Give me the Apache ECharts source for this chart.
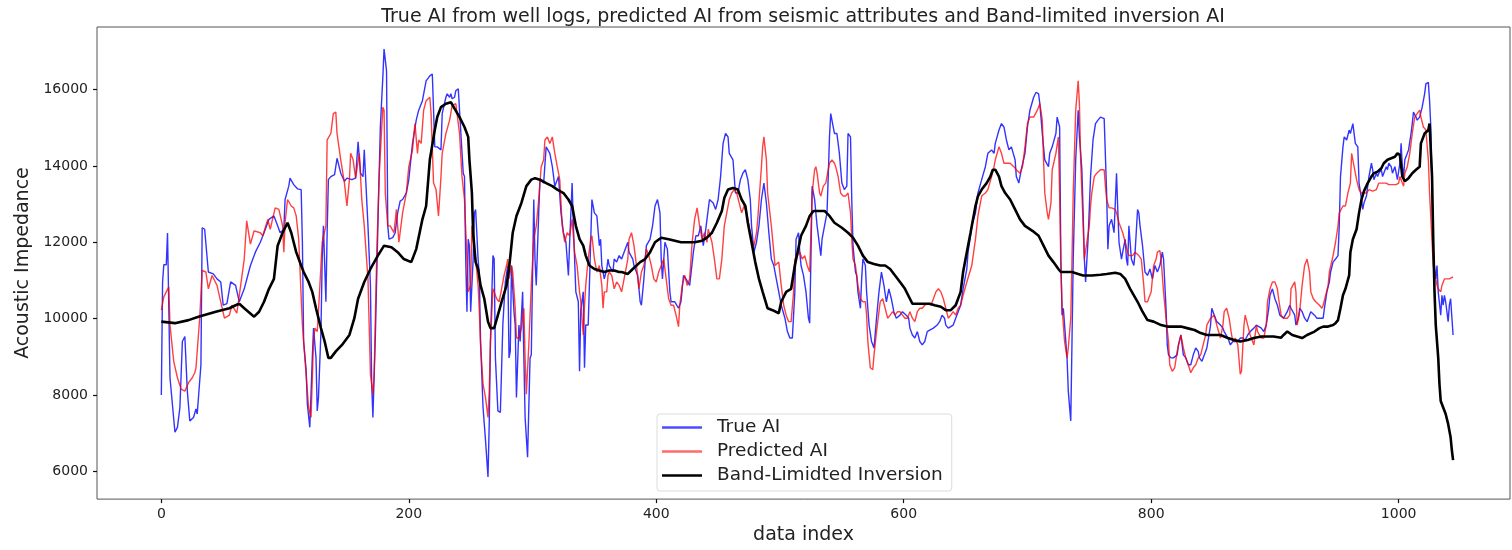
<!DOCTYPE html>
<html>
<head>
<meta charset="utf-8">
<title>Acoustic impedance comparison</title>
<script src="https://cdn.jsdelivr.net/npm/echarts@6/dist/echarts.min.js"></script>
<style>
  html, body { margin: 0; padding: 0; background: #fff; }
  #chart { width: 1512px; height: 550px; }
</style>
</head>
<body>
<div id="chart"></div>
<script>
// Tick positions for both axes
const xTicks = [0, 200, 400, 600, 800, 1000];
const yTicks = [6000, 8000, 10000, 12000, 14000, 16000];

// [data index, acoustic impedance] — impedance measured from well logs
const trueAI = [[0,8000],[1,10960],[2,11410],[4,11410],[5,12240],[7,8450],[11,7020],[13,7150],[15,7670],[17,9400],[19,9530],[21,8100],[23,7320],[26,7410],[28,7630],[29,7500],[32,8790],[33,12380],[35,12340],[38,11220],[42,11170],[45,11040],[48,10960],[50,10350],[53,10390],[56,10960],[60,10870],[63,10440],[67,10780],[72,11390],[76,11740],[80,12000],[83,12250],[87,12600],
[88,12640],[91,12690],[94,12430],[96,12250],[99,12340],[100,13120],[103,13470],[104,13680],[107,13510],[110,13400],[113,13380],[114,12000],[115,9400],[117,8660],[118,7760],[120,7150],[122,8970],[123,9750],[125,8970],[126,7580],[127,7930],[129,9660],[130,11560],[131,12430],[133,10440],[134,12250],[135,13640],[137,13720],[140,13770],[142,14200],[145,13810],[148,13600],[150,13680],[154,13640],[157,13680],[159,14630],[161,13810],[163,13720],[164,14420],[167,12430],[169,10870],[170,8280],[171,7410],[173,9570],[175,12430],[177,15020],[179,16320],[180,17060],[182,16490],[183,12430],[184,12080],[187,12120],[189,12250],[191,12770],[193,13080],[195,13120],[198,13290],[200,13640],[203,14590],[206,15200],[208,15460],[211,15710],[214,16230],[217,16360],[219,16410],[220,15460],[221,14500],[223,14500],[226,14420],[227,15370],[230,15800],
[231,15890],[233,15800],[234,15890],[235,15760],[237,15800],[238,15970],[240,16020],[241,15460],[244,13810],[245,13720],[246,11560],[247,10180],[248,12080],[249,11910],[250,10180],[252,11560],[253,12770],[254,12860],[256,11560],[257,11130],[258,9400],[260,7670],[262,6810],[264,5850],[265,7240],[266,9400],[268,11650],[269,11560],[270,8970],[272,7580],[274,7540],[276,9830],[278,10960],[280,11390],[281,8970],[282,9140],[283,11390],[285,10180],[286,9830],[287,7930],[289,9830],[290,9400],[292,10700],[293,8970],[294,7410],[296,6370],[298,8970],[299,9050],[301,13120],[302,11560],[303,10870],[305,12770],[306,13640],[309,13550],[311,14500],[314,14330],[316,13980],[318,13470],[321,13720],[323,12770],[325,12250],[327,12000],[329,11130],[330,12000],[332,13550],[333,12430],[335,10700],[337,10440],[338,8620],[339,10220],[341,10700],[342,8710],[343,9830],[345,9830],[347,12000],[348,13120],[350,12770],[352,12690],[354,11910],[355,12080],[356,11390],[358,11040],[360,11300],[361,11560],[362,11390],[365,11220],[366,11560],[368,11480],[370,11650],
[372,11560],[374,11740],[377,12000],[378,11740],[381,11560],[382,11390],[385,11130],[387,10440],[388,10350],[390,11040],[392,11910],[395,12080],[397,12430],[399,12950],[401,13120],[403,12770],[404,11560],[405,11040],[407,12000],[409,11820],[411,10700],[412,10440],[415,10440],[418,10270],[420,10440],[422,11130],[424,11040],[427,10870],[430,11740],[432,12170],[434,12170],[436,12430],[438,11910],[440,12340],[441,12600],[443,13120],[446,13030],[448,12860],[450,13120],[452,13720],[454,14590],[456,14850],[458,14760],[459,14330],[462,14160],[464,13290],[466,13290],[468,13640],[470,13810],[472,13900],[474,13640],[476,13120],[477,12430],[479,11740],[481,12000],[483,12430],[485,13120],[487,13550],[489,13030],[491,12250],[493,11560],[495,11390],[497,11040],[499,10700],[501,10350],[504,10010],[506,9660],[508,9490],[510,9490],[512,10700],
[513,12080],[515,12250],[516,11740],[517,11390],[519,11130],[521,10700],[523,10010],[524,9880],[525,11560],[526,13470],[528,13120],[529,12770],[530,12430],[532,11910],[533,11650],[534,12080],[536,12430],[538,12770],[539,13720],[540,14760],[541,15370],[543,15020],[544,14850],[546,14850],[548,14330],[550,13550],[552,13380],[554,13470],[555,14850],[557,14760],[558,13120],[559,11910],[561,11220],[562,11130],[563,10700],[565,10270],[566,11040],[567,11560],[569,11390],[570,10700],[572,9830],[574,9400],[576,9230],[578,10010],[580,10700],[582,11220],[584,10870],[586,10440],[588,10780],[590,10520],[592,10180],[594,10010],[597,10090],[599,10180],[602,10090],[604,10010],[605,9750],[607,9570],[609,9490],[611,9660],[613,9400],[615,9310],[617,9400],[619,9660],[621,9700],[624,9750],[627,9830],[629,9920],[631,10090],[633,10010],[634,9830],[636,9750],[638,9790],[640,9830],[642,10010],[644,10180],[646,10350],[648,10780],[651,11300],[652,11740],[654,12170],
[655,12430],[658,12770],[660,13290],[663,13640],[666,13980],[668,14330],[671,14420],[673,14330],[674,14590],[677,14940],[679,15110],[681,15020],[682,15070],[683,14680],[685,14420],[687,14500],[690,14160],[691,13720],[693,13550],[695,13900],[698,14330],[700,15020],[702,15460],[705,15800],[707,15930],[709,15890],[710,15630],[712,14850],[714,14160],[717,13980],[718,14330],[720,14500],[723,14850],[724,15280],[726,15020],[727,11560],[728,10090],[729,10270],[730,10270],[732,8970],[733,8100],[735,7320],[736,9400],[737,11560],[739,14160],[741,15460],[742,14760],[744,13900],[745,12770],[746,11560],[747,10960],[749,12080],[751,13720],[753,14680],[755,15110],[757,15200],[759,15280],[762,15240],[764,13290],[765,11820],[766,12430],[768,12600],[770,12250],[772,13810],[773,12860],[774,12000],[776,11560],[777,11740],[779,12080],[780,11560],[781,11390],[782,12430],[784,11560],[786,11390],[787,11740],[789,12860],[790,12770],[791,12430],[793,11910],[794,11560],[795,11220],
[797,11130],[799,11300],[801,11040],[803,11390],[805,11220],[807,11390],[809,11740],[810,11560],[812,10270],[813,9310],[814,9050],[816,8970],[818,8970],[821,9050],[822,9310],[824,9570],[826,9050],[828,8970],[830,8790],[832,8790],[834,9050],[836,9230],[838,9140],[839,8970],[841,8880],[843,9050],[845,9230],[848,9830],[849,10270],[851,10090],[853,9920],[856,9830],[858,9750],[859,9660],[862,9490],[864,9310],[866,9400],[868,9400],[870,9400],[872,9490],[874,9490],[876,9440],[878,9570],[880,9660],[883,9750],[885,9830],[886,9830],[889,9750],[891,9660],[893,9830],[895,10270],[896,10610],[898,10780],[900,10520],[902,10350],[904,10090],[905,10090],[907,10010],[910,10180],[912,10350],[913,10270],[916,10090],[917,9830],[919,10010],[920,10270],[922,10180],[924,10010],[926,9920],[929,10180],[930,10180],[932,10090],[934,10010],[937,10010],
[939,10010],[940,10270],[942,10700],[944,10960],[945,11220],[947,11480],[949,11560],[951,11650],[952,12430],[953,13720],[955,14500],[956,14760],[958,14680],[960,14940],[961,14850],[963,15110],[964,15110],[965,14590],[967,14500],[968,13550],[970,13120],[971,12860],[972,13030],[974,13210],[975,13470],[976,13720],[978,14070],[979,13900],[980,13640],[982,13810],[983,13720],[984,13810],[986,13900],[987,13720],[988,13810],[990,13980],[991,13900],[992,14070],[994,13980],[995,13810],[997,13980],[998,13810],[999,13640],[1001,14070],[1002,14590],[1003,13980],[1004,13720],[1005,14160],[1007,14330],[1008,14420],[1010,14850],[1011,15110],[1012,15410],[1014,15280],[1015,15200],[1017,15280],[1019,15540],[1021,15890],[1022,16150],[1024,16190],[1025,15710],[1026,15020],[1027,13290],[1028,11650],[1030,11040],[1031,11390],[1032,10700],[1034,10090],[1035,10610],[1036,10350],[1037,10610],[1038,10440],[1040,9920],[1041,10350],[1042,10520],[1044,9570]];

// [data index, acoustic impedance] — predicted from seismic attributes
const predictedAI = [[0,10220],[2,10570],[6,10830],[7,9830],[10,8880],[13,8450],[16,8150],[19,8100],[22,8320],[25,8450],[27,8580],[28,8710],[31,10010],[33,11260],[36,11220],[38,10780],[41,11130],[45,10870],[51,10010],[55,10090],[57,10350],[61,10140],[63,10610],[67,11560],[69,12560],[72,11950],[75,12300],[80,12250],[82,12170],[86,12600],
[88,12340],[92,12900],[95,12860],[98,12430],[99,11740],[100,12510],[102,13120],[105,12950],[107,12900],[109,12690],[111,12080],[114,9830],[117,8540],[119,7670],[121,7410],[123,9400],[124,9750],[126,9660],[127,10180],[130,12000],[133,12430],[134,14680],[137,14850],[139,15370],[141,15410],[142,14850],[145,14160],[148,13550],[150,12950],[152,13640],[153,14330],[155,14160],[157,13680],[160,14330],[162,13120],[164,12430],[167,11040],[169,8540],[171,8020],[172,8540],[174,11560],[176,13720],[179,15540],[180,15460],[181,13290],[183,12430],[185,12430],[188,12250],[190,12860],[192,12000],[195,12770],[198,13290],[200,13980],[203,14420],[205,15110],[207,14330],[208,14680],[210,14590],[212,15460],[214,15710],[217,15800],[218,15370],[220,13550],[222,13380],[224,12690],[226,13720],[227,14330],
[230,14850],[233,15200],[235,15580],[238,15630],[239,15370],[241,14850],[243,13720],[245,13120],[247,11560],[248,10700],[250,10870],[251,12430],[252,12080],[254,11560],[256,10870],[257,10180],[258,9310],[260,8280],[262,7930],[264,7410],[265,8100],[266,9400],[268,10780],[269,10700],[271,10520],[273,10440],[275,10780],[277,11130],[279,11390],[280,11560],[281,11040],[283,11390],[284,11220],[286,10270],[287,9490],[289,9490],[291,9750],[293,10270],[294,8970],[295,8020],[297,9310],[299,10870],[301,12080],[303,12430],[305,13120],[307,13980],[309,14160],[310,14680],[312,14760],[314,14590],[316,14760],[318,14330],[320,13980],[322,13640],[324,12430],[326,12000],[328,12250],[330,12170],[332,12600],[334,11740],[336,11390],[338,10700],[339,10440],[341,9570],[342,10350],[343,10870],[345,11560],[347,12080],[348,12170],[350,11560],[352,11220],[354,11390],[356,10870],[357,10270],[358,10700],[360,10700],[361,11130],[362,11220],[364,11130],[365,10960],[366,10780],[368,10960],[370,10870],
[372,10700],[374,11040],[377,11560],[378,12080],[380,12250],[382,11910],[384,11390],[386,10780],[388,11220],[390,11390],[392,11820],[394,11650],[396,11390],[398,11040],[400,10960],[402,11220],[404,11390],[406,11560],[408,11040],[410,10520],[412,10350],[414,10350],[416,10090],[418,9790],[419,10350],[421,10870],[423,11130],[425,10870],[427,11040],[429,12000],[431,12600],[433,12900],[435,12430],[437,12080],[439,12250],[441,12000],[442,12340],[445,12000],[447,11560],[449,11040],[451,11040],[453,11560],[455,12430],[457,12770],[459,13120],[461,13290],[463,13380],[465,13290],[467,13030],[469,12770],[471,12950],[473,12770],[475,12430],[477,12080],[479,11910],[481,12250],[482,12600],[485,13980],[486,14500],[487,14760],[489,14160],[490,13290],[493,12430],[495,11740],[496,11390],[499,11480],[501,10870],[503,10350],[505,10090],[507,9920],[509,9920],[511,10700],[512,11560],
[516,11740],[518,11560],[520,11650],[522,11390],[524,11220],[525,12250],[526,13290],[528,13900],[529,13980],[530,13810],[532,13290],[533,13210],[535,13470],[537,13550],[539,13900],[540,14070],[542,14160],[544,14070],[545,13980],[547,13720],[549,13290],[551,13210],[553,13210],[555,13290],[557,12770],[558,12080],[559,11560],[561,11390],[563,10870],[565,10520],[567,10440],[569,10440],[570,10090],[571,9400],[573,8710],[575,8660],[576,9050],[578,9660],[580,10180],[581,10440],[583,10520],[585,10270],[587,10010],[589,10090],[591,10180],[593,10090],[595,10180],[597,10180],[599,10090],[601,10010],[603,10010],[605,10180],[607,10010],[609,9920],[611,10180],[613,10270],[615,10270],[617,10350],[620,10390],[622,10350],[624,10520],[626,10700],[628,10780],[630,10700],[632,10520],[634,10270],[636,10010],[638,10090],[640,10180],[642,10090],[644,10270],[646,10350],[648,10610],[651,10960],
[655,11390],[658,12080],[660,12690],[663,13210],[666,13290],[668,13380],[671,13720],[673,13980],[674,14160],[677,14500],[679,14330],[681,14070],[683,14070],[686,14070],[689,13980],[691,13900],[694,13810],[696,13980],[698,14500],[700,15110],[702,15280],[705,15280],[708,15460],[710,15630],[712,15200],[713,14160],[714,13290],[716,12770],[717,12600],[719,13030],[720,13900],[723,14330],[725,14760],[726,13290],[727,11390],[728,10270],[730,9400],[732,8970],[733,9230],[735,10010],[736,11560],[737,13290],[739,15460],[741,16230],[742,15630],[743,14160],[745,12430],[746,11560],[748,12000],[750,12430],[751,12950],[752,13290],[754,13720],[756,13810],[759,13900],[762,13900],[763,13470],[764,13120],[766,12900],[768,12900],[771,12860],[772,12770],[774,12510],[777,12250],[779,12000],[781,11740],[782,11650],[785,11650],[787,11740],[790,11650],[792,11560],[794,10870],[795,10440],
[797,10440],[800,10700],[802,11390],[804,11560],[805,11740],[807,11780],[808,11560],[810,10700],[812,10010],[814,9400],[815,8790],[817,8620],[819,8710],[821,9140],[824,9570],[826,9230],[828,8970],[830,8790],[832,8580],[834,8710],[836,8790],[838,8970],[840,9050],[842,9310],[844,9570],[845,9830],[848,10010],[849,10010],[851,10090],[853,9830],[856,9490],[858,9830],[859,10180],[861,10270],[863,10010],[865,9570],[866,9400],[868,9490],[870,9310],[872,8540],[873,8620],[875,9830],[876,10090],[878,9830],[880,9570],[883,9310],[885,9830],[886,9660],[889,9490],[891,9490],[893,9830],[894,10440],[896,10780],[898,10960],[900,10960],[902,10780],[903,10520],[905,10090],[907,10010],[910,10010],[912,10090],[913,10780],[916,10960],[917,10700],[918,9830],[920,10180],[922,10870],[924,11390],[926,11560],[928,11220],[929,10700],[931,10520],[933,10440],[936,10350],[938,10270],
[939,10350],[941,10610],[943,10870],[944,11220],[947,11650],[949,12000],[951,12430],[952,12770],[955,12950],[957,12950],[959,13290],[961,13550],[962,14330],[963,14330],[964,13980],[966,13640],[968,13380],[970,13290],[971,13290],[974,13290],[976,13380],[979,13340],[982,13380],[984,13550],[987,13550],[988,13510],[990,13550],[992,13510],[995,13510],[998,13510],[1000,13550],[1001,13720],[1003,13550],[1004,13470],[1005,13810],[1007,13980],[1009,14330],[1011,14850],[1013,15280],[1015,15370],[1017,15460],[1018,15280],[1020,15020],[1022,14940],[1024,14160],[1025,13290],[1027,12000],[1028,11390],[1030,11040],[1031,10870],[1032,10780],[1034,10700],[1035,10870],[1037,11040],[1039,11040],[1041,11040],[1044,11090]];

// [data index, acoustic impedance] — band-limited inversion result
const bandLimited = [[0,9920],[11,9880],[22,9960],[30,10050],[44,10180],[55,10270],[60,10350],[63,10390],[67,10270],[75,10050],[79,10180],[83,10440],[87,10780],[91,11040],[94,11910],[98,12250],[102,12510],[105,12250],[109,11740],[113,11390],[115,11220],[119,10960],[122,10700],[125,10270],[129,9750],[132,9400],[135,8970],[137,8970],[141,9140],[146,9310],[152,9570],[156,10010],[159,10520],[164,10960],[169,11300],[175,11650],[180,11910],[186,11870],[191,11740],[196,11560],[202,11480],[206,11820],[211,12600],[214,12950],[217,14160],[221,14940],[223,15280],[226,15540],[230,15630],[234,15670],[237,15500],[241,15280],[245,15020],[248,14760],[249,14160],[251,13290],[252,12250],[254,11480],[256,11300],[258,10870],[261,10520],[264,9920],[266,9750],[269,9750],[272,10090],[275,10440],[279,10870],[281,11300],[284,12250],[287,12690],[291,13030],[295,13470],[299,13640],[302,13680],[306,13640],[311,13550],[316,13470],[320,13380],[325,13290],[329,13120],[332,12950],[335,12430],[338,12080],[341,11910],[343,11650],[346,11390],[350,11300],[354,11260],[358,11220],[362,11260],[366,11260],[370,11220],[372,11220],[377,11170],[381,11300],[387,11480],[391,11560],[395,11740],[399,12000],[404,12120],[410,12080],[415,12040],[420,12000],[426,12000],[431,12000],[437,12040],[441,12120],[445,12250],[449,12510],[453,12820],[455,13160],[458,13380],[462,13420],[466,13380],[469,13120],[472,12950],[474,12510],[477,12000],[480,11480],[483,11040],[486,10700],[490,10270],[494,10220],[499,10140],[501,10440],[505,10700],[509,10780],[512,11390],[517,12170],[521,12430],[524,12690],[527,12820],[531,12820],[536,12820],[540,12690],[544,12510],[550,12380],[555,12250],[559,12120],[563,11910],[567,11650],[571,11480],[576,11430],[581,11390],[585,11390],[589,11300],[593,11130],[597,10960],[601,10780],[605,10520],[607,10390],[612,10390],[617,10390],[621,10390],[625,10350],[630,10310],[634,10220],[638,10220],[642,10350],[646,10700],[648,11220],[651,11740],[654,12250],[658,12950],[660,13210],[663,13380],[667,13550],[670,13720],[672,13900],[674,13900],[677,13720],[679,13470],[682,13290],[686,13120],[690,12860],[694,12600],[698,12430],[704,12300],[709,12170],[713,11910],[717,11650],[721,11480],[725,11300],[727,11220],[732,11220],[736,11220],[741,11170],[745,11130],[752,11130],[759,11150],[764,11170],[771,11200],[775,11170],[779,11040],[783,10780],[789,10440],[793,10180],[797,9960],[802,9920],[808,9830],[813,9790],[818,9790],[824,9790],[829,9750],[835,9700],[840,9620],[845,9570],[851,9570],[856,9570],[862,9490],[867,9440],[872,9400],[878,9440],[883,9490],[889,9530],[894,9530],[899,9530],[905,9500],[907,9570],[910,9660],[914,9570],[918,9530],[922,9490],[926,9570],[932,9660],[936,9750],[939,9790],[943,9790],[947,9830],[949,9880],[951,9960],[953,10270],[955,10610],[957,10780],[960,11130],[961,11740],[963,12080],[966,12340],[968,12770],[970,13120],[972,13340],[975,13550],[978,13720],[980,13810],[983,13850],[986,13940],[988,14070],[991,14160],[994,14200],[997,14240],[999,14330],[1001,14290],[1003,13720],[1005,13600],[1008,13680],[1011,13810],[1014,13900],[1017,13980],[1018,14590],[1021,14850],[1024,14940],[1025,15110],[1027,13720],[1028,12000],[1029,10700],[1030,9830],[1032,8970],[1033,8280],[1034,7840],[1036,7670],[1038,7500],[1040,7240],[1042,6890],[1043,6550],[1044,6290]];

const FONT = "'DejaVu Sans', 'Liberation Sans', sans-serif";
const TEXT = '#222';
const FRAME = '#555';

const chart = echarts.init(document.getElementById('chart'), null, { renderer: 'canvas' });

const tickStyle = { show: true, inside: false, length: 4, lineStyle: { color: '#111', width: 1.2 } };
const plainNumber = v => String(v);

chart.setOption({
  animation: false,
  backgroundColor: '#ffffff',
  title: {
    text: 'True AI from well logs, predicted AI from seismic attributes and Band-limited inversion AI',
    left: 798,
    top: 3,
    textAlign: 'center',
    textStyle: { fontFamily: FONT, fontSize: 19, fontWeight: 'normal', color: TEXT }
  },
  grid: {
    left: 97, right: 2, top: 27, bottom: 46,
    show: true, borderColor: FRAME, borderWidth: 1, backgroundColor: 'transparent'
  },
  legend: {
    orient: 'vertical',
    left: 657, top: 414,
    backgroundColor: 'rgba(255,255,255,0.85)',
    borderColor: '#dcdcdc', borderWidth: 1, borderRadius: 3,
    padding: [4, 9, 6, 5],
    itemGap: 5, itemWidth: 40, itemHeight: 2.5,
    icon: 'rect',
    textStyle: { fontFamily: FONT, fontSize: 18.5, color: TEXT, padding: [0, 0, 0, 10] },
    data: [
      { name: 'True AI', itemStyle: { color: '#4d4dff' } },
      { name: 'Predicted AI', itemStyle: { color: '#ff6b6b' } },
      { name: 'Band-Limidted Inversion', itemStyle: { color: '#000000' } }
    ]
  },
  xAxis: {
    type: 'value',
    min: -52, max: 1090,
    name: 'data index',
    nameLocation: 'middle',
    nameGap: 23,
    nameTextStyle: { fontFamily: FONT, fontSize: 19, color: TEXT },
    axisLine: { show: false, onZero: false },
    splitLine: { show: false },
    axisTick: Object.assign({ customValues: xTicks }, tickStyle),
    axisLabel: { customValues: xTicks, formatter: plainNumber, fontFamily: FONT, fontSize: 14, color: TEXT, margin: 8 }
  },
  yAxis: {
    type: 'value',
    min: 5270, max: 17640,
    name: 'Acoustic Impedance',
    nameLocation: 'middle',
    nameGap: 62,
    nameTextStyle: { fontFamily: FONT, fontSize: 19, color: TEXT },
    axisLine: { show: false, onZero: false },
    splitLine: { show: false },
    axisTick: Object.assign({ customValues: yTicks }, tickStyle),
    axisLabel: { customValues: yTicks, formatter: plainNumber, fontFamily: FONT, fontSize: 14, color: TEXT, margin: 9 }
  },
  series: [
    {
      name: 'True AI', type: 'line', data: trueAI,
      symbol: 'none', smooth: false,
      lineStyle: { color: '#0000ff', width: 1.4, opacity: 0.8 },
      itemStyle: { color: '#0000ff' }
    },
    {
      name: 'Predicted AI', type: 'line', data: predictedAI,
      symbol: 'none', smooth: false,
      lineStyle: { color: '#ff0000', width: 1.4, opacity: 0.75 },
      itemStyle: { color: '#ff0000' }
    },
    {
      name: 'Band-Limidted Inversion', type: 'line', data: bandLimited,
      symbol: 'none', smooth: false,
      lineStyle: { color: '#000000', width: 2.6 },
      itemStyle: { color: '#000000' }
    }
  ]
});
</script>
</body>
</html>
